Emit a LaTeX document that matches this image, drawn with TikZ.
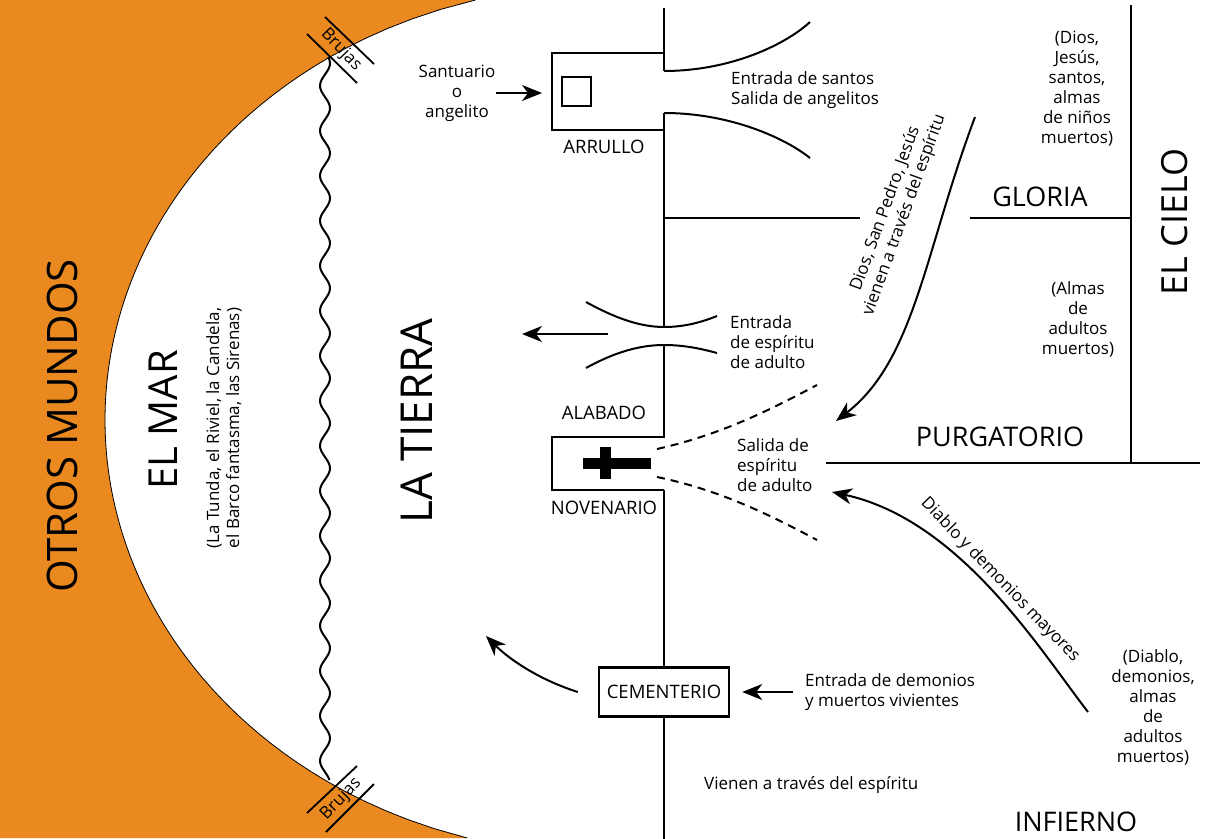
\documentclass[tikz,border=0pt]{standalone}
\usepackage{fontspec}
\setmainfont{Open Sans}
\usetikzlibrary{arrows.meta,positioning}
\definecolor{naranjamar}{RGB}{233,137,31}
\tikzset{
  linea/.style={line width=2.4pt},
  curva/.style={line width=2pt},
  flecha/.style={line width=2pt,-{Stealth[length=20pt,width=16pt,inset=6pt]}},
  texto/.style={font=\fontsize{17}{20}\selectfont,inner sep=0pt,align=center},
  rotulo/.style={font=\fontsize{18.5}{22}\selectfont,inner sep=0pt},
  region/.style={font=\fontsize{27}{30}\selectfont,inner sep=0pt},
  mundo/.style={font=\fontsize{42}{46}\selectfont,inner sep=0pt,rotate=90},
  brujas/.style={font=\fontsize{17}{19}\selectfont,inner sep=0pt},
}
\begin{document}
\begin{tikzpicture}[x=1pt,y=-1pt]
            \useasboundingbox (0,0) rectangle (1207,838);
            \pgfmathsetmacro{\eje}{664};
            \fill [naranjamar] (0,0) -- plot[domain=-420:418,samples=90] ({606-501*sqrt(1-(\x/435)^2)},{420+\x}) -- (0,838) -- cycle;
            \draw [line width=0.8pt] plot[domain=-420:418,samples=90] ({606-501*sqrt(1-(\x/435)^2)},{420+\x});
            \draw [curva] plot[domain=57:780,samples=260] ({325+5*sin(8*(\x-57)+40)},\x);
            \draw [line width=1.8pt] (325,17) -- (374,64);
            \draw [line width=1.8pt] (307,34) -- (357,83);
            \node [brujas,rotate=-46] (brujasarriba) at (341,50) {Brujas};
            \draw [line width=1.8pt] (307,813) -- (357,766);
            \draw [line width=1.8pt] (326,832) -- (374,784);
            \node [brujas,rotate=46] (brujasabajo) at (341,799) {Brujas};
            \node [mundo] (otros) at (62,426) {OTROS MUNDOS};
            \node [mundo,font=\fontsize{40}{44}\selectfont] (mar) at (163,420) {EL MAR};
            \node [texto,rotate=90] (seres) at (224,428) {(La Tunda, el Riviel, la Candela,\\el Barco fantasma, las Sirenas)};
            \node [mundo,font=\fontsize{44}{48}\selectfont] (tierra) at (417,421) {LA TIERRA};
            \draw [linea] (\eje,8) -- (\eje,71);
            \draw [linea] (\eje,53) -- (552,53) -- (552,130) -- (\eje,130);
            \draw [linea] (\eje,113) -- (\eje,327);
            \draw [curva] (\eje,71) .. controls (730,71) and (785,45) .. (810,22);
            \draw [curva] (\eje,113) .. controls (730,113) and (785,138) .. (810,158);
            \draw [line width=1.8pt] (562,77) rectangle (591,106);
            \node [rotulo] (arrullo) at (604,147) {ARRULLO};
            \node [texto] (santuario) at (457,93) {Santuario\\o\\angelito};
            \coordinate (altar) at (542,93);
            \draw [flecha] (santuario.east) -- (altar);
            \node [texto,align=left,anchor=west] (santos) at (731,90) {Entrada de santos\\Salida de angelitos};
            \draw [linea] (\eje,218) -- (860,218);
            \draw [linea] (970,218) -- (1131,218);
            \draw [linea] (1131,5) -- (1131,463);
            \draw [linea] (826,463) -- (1200,463);
            \node [region] (gloria) at (1040,197) {GLORIA};
            \node [texto] (almasninos) at (1077,89) {(Dios,\\Jesús,\\santos,\\almas\\de niños\\muertos)};
            \node [mundo,font=\fontsize{36}{40}\selectfont] (cielo) at (1175,222) {EL CIELO};
            \node [texto] (almasadultos) at (1078,319) {(Almas\\de\\adultos\\muertos)};
            \node [region] (purgatorio) at (1000,437) {PURGATORIO};
            \draw [curva] (586,302) .. controls (615,318) and (640,327) .. (\eje,327) .. controls (685,327) and (702,322) .. (717,316);
            \draw [curva] (586,368) .. controls (615,352) and (640,345) .. (\eje,345) .. controls (685,345) and (702,349) .. (717,353);
            \coordinate (puerta) at (608,334);
            \coordinate (tierraoeste) at (522,334);
            \draw [flecha] (puerta) -- (tierraoeste);
            \node [texto,align=left,anchor=west] (entradaespiritu) at (730,342) {Entrada\\de espíritu\\de adulto};
            \draw [linea] (\eje,345) -- (\eje,437) -- (552,437) -- (552,490) -- (\eje,490);
            \fill (583,458) rectangle (651,469);
            \fill (600,447) rectangle (611,479);
            \node [rotulo] (alabado) at (604,413) {ALABADO};
            \node [rotulo] (novenario) at (604,508) {NOVENARIO};
            \draw [line width=2pt,dash pattern=on 8pt off 6pt] (657,449) .. controls (720,435) and (770,410) .. (817,385);
            \draw [line width=2pt,dash pattern=on 8pt off 6pt] (657,477) .. controls (720,490) and (770,515) .. (817,540);
            \node [texto,align=left,anchor=west] (salidaespiritu) at (737,465) {Salida de\\espíritu\\de adulto};
            \coordinate (cielofuente) at (975,117);
            \coordinate (llegadaarriba) at (836,421);
            \draw [flecha] (cielofuente) .. controls (925,250) and (915,360) .. (llegadaarriba);
            \node [texto,rotate=70] (dios) at (895,212) {Dios, San Pedro, Jesús\\vienen a través del espíritu};
            \coordinate (infiernofuente) at (1088,712);
            \coordinate (llegadaabajo) at (832,492);
            \draw [flecha] (infiernofuente) .. controls (1040,650) and (960,520) .. (llegadaabajo);
            \node [texto,rotate=-46] (diablo) at (1000,580) {Diablo y demonios mayores};
            \node [rotulo,draw,line width=2.4pt,minimum width=130pt,minimum height=49pt] (cementerio) at (\eje,692) {CEMENTERIO};
            \draw [linea] (\eje,490) -- (cementerio.north);
            \draw [linea] (cementerio.south) -- (\eje,840);
            \node [texto,align=left,anchor=west] (demonios) at (805,692) {Entrada de demonios\\y muertos vivientes};
            \draw [flecha] ([xshift=-12pt]demonios.west) -- ([xshift=12pt]cementerio.east);
            \coordinate (tierrasur) at (486,636);
            \draw [flecha] ([xshift=-20pt]cementerio.west) .. controls (540,680) and (510,660) .. (tierrasur);
            \node [texto,anchor=west] (vienen) at (704,785) {Vienen a través del espíritu};
            \node [region] (infierno) at (1076,822) {INFIERNO};
            \node [texto] (almasinfierno) at (1153,707) {(Diablo,\\demonios,\\almas\\de\\adultos\\muertos)};
        \end{tikzpicture}
\end{document}
